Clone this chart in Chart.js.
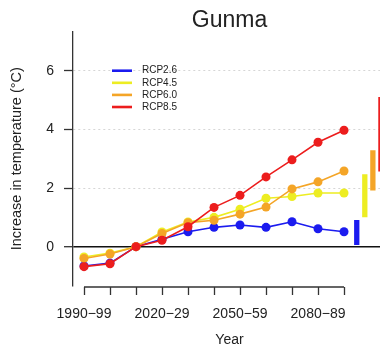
<!DOCTYPE html>
<html>
<head>
<meta charset="utf-8">
<script src="https://cdn.jsdelivr.net/npm/chart.js@4/dist/chart.umd.min.js"></script>
<style>
  html, body { margin: 0; padding: 0; background: #fff; }
  #wrap { width: 380px; height: 351px; overflow: hidden; position: relative; }
  canvas { display: block; }
</style>
</head>
<body>
<div id="wrap"><canvas id="c" width="386" height="351" style="width:386px;height:351px"></canvas></div>
<script>
// Decades on the x axis
const decades = ['1990\u221299', '2000\u221209', '2010\u221219', '2020\u221229', '2030\u221239',
                 '2040\u221249', '2050\u221259', '2060\u221269', '2070\u221279', '2080\u221289', '2090\u221299'];

// Mean temperature increase (°C) per scenario
const rcp26 = [-0.66, -0.56, 0, 0.25, 0.51, 0.66, 0.74, 0.66, 0.85, 0.61, 0.51];
const rcp45 = [-0.35, -0.22, 0, 0.50, 0.84, 1.00, 1.28, 1.65, 1.71, 1.83, 1.83];
const rcp60 = [-0.40, -0.25, 0, 0.45, 0.82, 0.90, 1.11, 1.35, 1.97, 2.21, 2.58];
const rcp85 = [-0.68, -0.58, 0, 0.22, 0.68, 1.34, 1.75, 2.38, 2.96, 3.56, 3.97];

// End-of-century spread (low, high) per scenario
const range26 = [0.06, 0.91];
const range45 = [1.00, 2.47];
const range60 = [1.92, 3.29];
const range85 = [2.56, 5.10];

const yTicks = [0, 2, 4, 6];
const scenarioNames = ['RCP2.6', 'RCP4.5', 'RCP6.0', 'RCP8.5'];

const COLORS = { rcp26: '#1b1bef', rcp45: '#eded22', rcp60: '#f4a527', rcp85: '#ec1d1d' };
const FONT = '"Liberation Sans", Arial, Helvetica, sans-serif';
const INK = '#222';

const idx = decades.map((_, i) => i);
const series = (vals) => vals.map((v, i) => ({ x: idx[i], y: v }));

function seriesDs(vals, color) {
  return {
    type: 'line', data: series(vals), borderColor: color, backgroundColor: color,
    borderWidth: 1.6, pointRadius: 4.5, pointBorderWidth: 0, pointBackgroundColor: color,
    tension: 0, fill: false
  };
}
// Range bars sit just right of the last decade
const last = idx[idx.length - 1];
function rangeDs(r, k, color) {
  const x = last + 0.49 + k * 0.31;
  return {
    type: 'line', data: [{ x, y: r[0] }, { x, y: r[1] }], borderColor: color,
    borderWidth: 5.3, borderCapStyle: 'butt', pointRadius: 0, fill: false
  };
}

// Red drawn on top, then orange, yellow, blue
const datasets = [
  seriesDs(rcp85, COLORS.rcp85),
  seriesDs(rcp60, COLORS.rcp60),
  seriesDs(rcp45, COLORS.rcp45),
  seriesDs(rcp26, COLORS.rcp26),
  rangeDs(range26, 0, COLORS.rcp26),
  rangeDs(range45, 1, COLORS.rcp45),
  rangeDs(range60, 2, COLORS.rcp60),
  rangeDs(range85, 3, COLORS.rcp85)
];

// Title, legend and the x axis line with its tick marks
const decor = {
  id: 'decor',
  afterDraw(chart) {
    const { ctx, chartArea, scales } = chart;
    const xs = scales.x;
    const ys = scales.y;
    ctx.save();
    // Title
    ctx.fillStyle = INK;
    ctx.font = '23px ' + FONT;
    ctx.textAlign = 'center';
    ctx.textBaseline = 'alphabetic';
    ctx.fillText('Gunma', (chartArea.left + chartArea.right) / 2, 27);

    // X axis line spanning first to last decade, ticks pointing down
    const yb = chartArea.bottom + 1.6;
    ctx.strokeStyle = '#333';
    ctx.lineWidth = 1.3;
    ctx.beginPath();
    ctx.moveTo(xs.getPixelForValue(idx[0]), yb);
    ctx.lineTo(xs.getPixelForValue(last), yb);
    idx.forEach(i => {
      const px = Math.round(xs.getPixelForValue(i)) + 0.5;
      ctx.moveTo(px, yb);
      ctx.lineTo(px, yb + 8);
    });
    ctx.stroke();

    // Legend
    const colors = [COLORS.rcp26, COLORS.rcp45, COLORS.rcp60, COLORS.rcp85];
    const lx = xs.getPixelForValue(idx[1]) + 2;
    let ly = ys.getPixelForValue(yTicks[3]);
    ctx.font = '10px ' + FONT;
    ctx.textAlign = 'left';
    ctx.textBaseline = 'middle';
    scenarioNames.forEach((name, i) => {
      ctx.strokeStyle = colors[i];
      ctx.lineWidth = 2.6;
      ctx.beginPath();
      ctx.moveTo(lx, ly);
      ctx.lineTo(lx + 20, ly);
      ctx.stroke();
      ctx.fillStyle = INK;
      ctx.fillText(name, lx + 30, ly);
      ly += 12.1;
    });
    ctx.restore();
  }
};

new Chart(document.getElementById('c'), {
  type: 'line',
  data: { datasets },
  plugins: [decor],
  options: {
    responsive: false,
    animation: false,
    devicePixelRatio: 1,
    layout: { autoPadding: false, padding: { top: 32, left: 4, right: 0, bottom: 0 } },
    plugins: { legend: { display: false }, tooltip: { enabled: false }, title: { display: false } },
    scales: {
      x: {
        type: 'linear',
        min: -0.4231,
        max: 11.615,
        afterBuildTicks: (s) => { s.ticks = idx.map(v => ({ value: v })); },
        afterFit: (s) => { s.height = 65.6; },
        ticks: {
          autoSkip: false, maxRotation: 0, minRotation: 0, padding: 10,
          color: INK, font: { family: FONT, size: 14 },
          callback: (v) => (v % 3 === 0 ? decades[v] : '')
        },
        grid: { display: true, drawOnChartArea: false, drawTicks: true, tickLength: 10, tickColor: 'rgba(0,0,0,0)' },
        border: { display: false },
        title: { display: true, text: 'Year', color: INK, font: { family: FONT, size: 14 }, padding: { top: 0, bottom: 2.6 } }
      },
      y: {
        type: 'linear',
        min: -1.32,
        max: 7.32,
        afterBuildTicks: (s) => { s.ticks = yTicks.map(v => ({ value: v })); },
        afterFit: (s) => { s.width = 69; },
        ticks: { padding: 10, color: INK, font: { family: FONT, size: 14 } },
        grid: {
          drawOnChartArea: true, drawTicks: true, tickLength: 9,
          color: (c) => (c.tick && c.tick.value === 0 ? '#111' : '#d6d6d6'),
          lineWidth: (c) => (c.tick && c.tick.value === 0 ? 1.4 : 1),
          tickColor: '#333', tickWidth: 1.3
        },
        border: {
          display: true, color: '#333', width: 1.3,
          dash: (c) => (c.tick && c.tick.value === 0 ? [] : [2, 3])
        },
        title: { display: true, text: 'Increase in temperature (\u00B0C)', color: INK,
                 font: { family: FONT, size: 14.5 }, padding: { top: 4.3, bottom: 0 } }
      }
    }
  }
});
</script>
</body>
</html>
